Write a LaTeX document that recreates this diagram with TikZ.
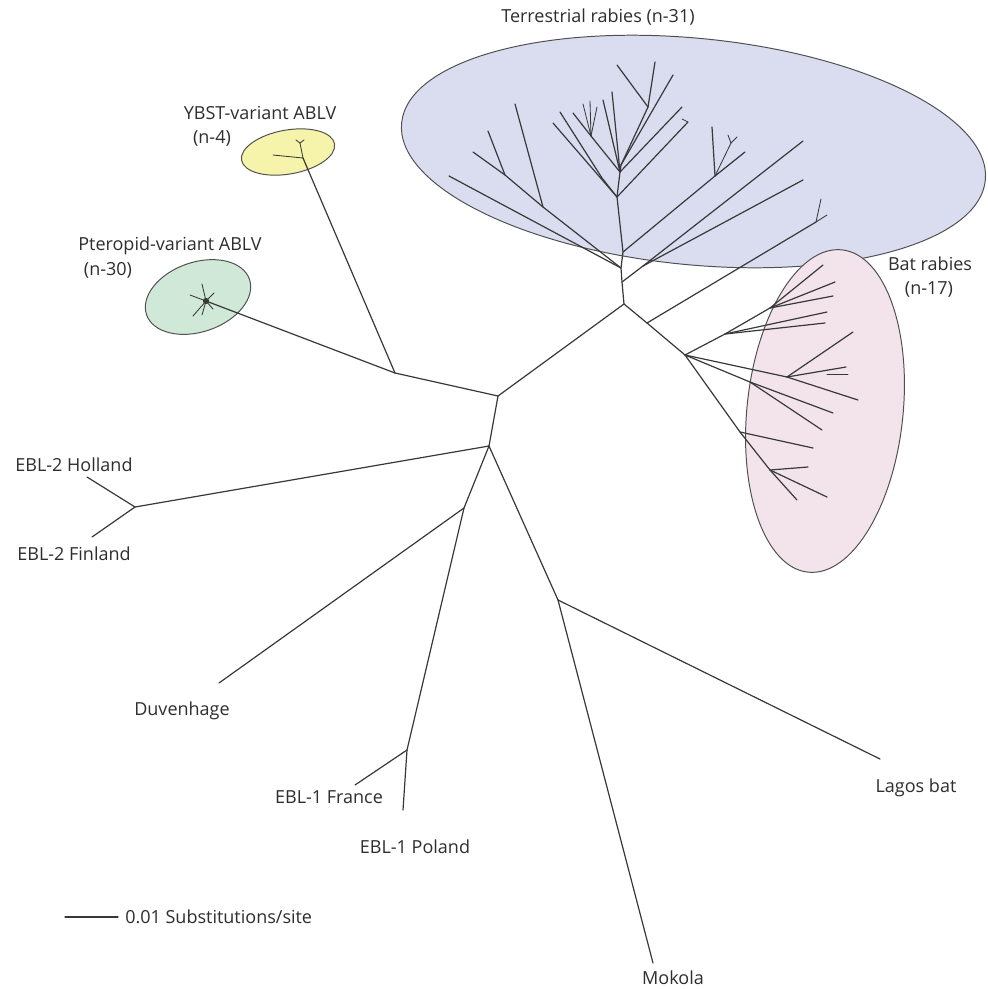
\documentclass[tikz,border=0pt]{standalone}
\usepackage{fontspec}
\setmainfont{Open Sans}
\usepackage{xcolor}
\usepackage{tikz}
\usetikzlibrary{calc}
\definecolor{treeInk}{HTML}{383838}
\definecolor{labelInk}{HTML}{2E2E2E}
\definecolor{rimInk}{HTML}{505050}
\definecolor{terrFill}{HTML}{DADDF0}
\definecolor{batFill}{HTML}{F2E4EA}
\definecolor{ybstFill}{HTML}{F6F3AA}
\definecolor{pterFill}{HTML}{D0E8D8}

\begin{document}
\begin{tikzpicture}[
  x=0.025cm,
  y=-0.025cm,
  branch/.style={draw=treeInk, line width=0.85pt, line cap=round},
  twig/.style={draw=treeInk, line width=0.6pt, line cap=round},
  clade/.style={draw=rimInk, line width=0.7pt},
  tag/.style={font=\fontsize{12.8}{14}\selectfont, text=labelInk, inner sep=0pt}
]
\fill[white] (0,0) rectangle (988,989);
\useasboundingbox (0,0) rectangle (988,989);

% clade ellipses
\coordinate (terrC) at (693.5,151.5);
\coordinate (batC) at (825,411);
\coordinate (ybstC) at (288,152);
\coordinate (pterC) at (198,297);
\draw[clade, fill=terrFill, rotate around={-5.6:(terrC)}] (terrC) ellipse [x radius=7.33cm, y radius=2.83cm];
\draw[clade, fill=batFill, rotate around={-6:(batC)}] (batC) ellipse [x radius=1.95cm, y radius=4.05cm];
\draw[clade, fill=ybstFill, rotate around={10:(ybstC)}] (ybstC) ellipse [x radius=1.18cm, y radius=0.55cm];
\draw[clade, fill=pterFill, rotate around={19:(pterC)}] (pterC) ellipse [x radius=1.36cm, y radius=0.87cm];

% backbone
\coordinate (j1) at (498,396);
\coordinate (j2) at (624,304);
\coordinate (j3) at (395,373);
\coordinate (j4) at (489,446);
\coordinate (j5) at (464,508);
\coordinate (j6) at (558,600);
\coordinate (j7) at (407,750);
\coordinate (j8) at (135,507);
\coordinate (hol) at (87,477);
\coordinate (fin) at (92,537);
\coordinate (duv) at (219,683);
\coordinate (fra) at (355,785);
\coordinate (pol) at (403,810);
\coordinate (lag) at (880,759);
\coordinate (mok) at (653,963);

\draw[branch] (j1) -- (j2);
\draw[branch] (j1) -- (j3);
\draw[branch] (j1) -- (j4);
\draw[branch] (j4) -- (j8);
\draw[branch] (j8) -- (hol);
\draw[branch] (j8) -- (fin);
\draw[branch] (j4) -- (j5);
\draw[branch] (j5) -- (duv);
\draw[branch] (j5) -- (j7);
\draw[branch] (j7) -- (fra);
\draw[branch] (j7) -- (pol);
\draw[branch] (j4) -- (j6);
\draw[branch] (j6) -- (lag);
\draw[branch] (j6) -- (mok);

% YBST and pteropid ABLV
\coordinate (yb) at (303,158);
\coordinate (yb1) at (273,155);
\coordinate (yb2) at (300,143);
\coordinate (yb3) at (296,140);
\coordinate (yb4) at (304,140);
\coordinate (pt) at (206,301);
\coordinate (pt1) at (202,284);
\coordinate (pt2) at (190,295);
\coordinate (pt3) at (193,316);
\coordinate (pt4) at (202,315);
\coordinate (pt5) at (213,309);
\coordinate (pt6) at (214,293);
\draw[branch] (j3) -- (yb);
\draw[twig] (yb) -- (yb1);
\draw[twig] (yb) -- (yb2);
\draw[twig] (yb2) -- (yb3);
\draw[twig] (yb2) -- (yb4);
\draw[branch] (j3) -- (pt);
\draw[twig] (pt) -- (pt1);
\draw[twig] (pt) -- (pt2);
\draw[twig] (pt) -- (pt3);
\draw[twig] (pt) -- (pt4);
\draw[twig] (pt) -- (pt5);
\draw[twig] (pt) -- (pt6);
\fill[treeInk] (pt) circle [radius=2.2pt];

% terrestrial rabies
\coordinate (t0) at (622,282);
\coordinate (t1) at (621,268);
\coordinate (t2) at (623,252);
\coordinate (t3) at (617,197);
\coordinate (t4) at (602,178);
\coordinate (t5) at (620,172);
\coordinate (t6) at (621,165);
\coordinate (tl1) at (543,207);
\coordinate (tl2) at (505,175);
\coordinate (tm) at (643,266);
\coordinate (tf) at (715,176);
\coordinate (tc) at (591,136);
\coordinate (tg) at (648,107);
\draw[branch] (j2) -- (t0) -- (t1) -- (t2) -- (t3) -- (t5) -- (t6);
\draw[branch] (t1) -- (449,176) coordinate (ta);
\draw[branch] (t1) -- (tl1) -- (tl2) -- (473,152) coordinate (tb);
\draw[branch] (tl2) -- (488,131) coordinate (tl3);
\draw[branch] (tl1) -- (515,104) coordinate (tl4);
\draw[branch] (t0) -- (tm);
\draw[branch] (tm) -- (803,141) coordinate (tr1);
\draw[branch] (tm) -- (803,180) coordinate (tr2);
\draw[branch] (t2) -- (tf) -- (745,152) coordinate (tf1);
\draw[branch] (tf) -- (712,127) coordinate (tf2);
\draw[twig] (tf) -- (731,143) coordinate (tf3);
\draw[twig] (tf3) -- (728,135) coordinate (tf4);
\draw[twig] (tf3) -- (737,137) coordinate (tf5);
\draw[branch] (t3) -- (553,123) coordinate (tu1);
\draw[branch] (t3) -- (t4) -- (560,112) coordinate (tu2);
\draw[branch] (t5) -- (tc) -- (573,113) coordinate (tu3);
\draw[twig] (tc) -- (583,104) coordinate (tu4);
\draw[twig] (tc) -- (590,101) coordinate (tu5);
\draw[twig] (tc) -- (597,107) coordinate (tu6);
\draw[branch] (t5) -- (603,100) coordinate (tu7);
\draw[branch] (t5) -- (612,92) coordinate (tu8);
\draw[branch] (t6) -- (tg);
\draw[branch] (tg) -- (617,65) coordinate (tg1);
\draw[branch] (tg) -- (655,62) coordinate (tg2);
\draw[branch] (t6) -- (673,75) coordinate (tv1);
\draw[branch] (t5) -- (682,107) coordinate (tv2);
\draw[branch] (t3) -- (688,122) coordinate (tv3);
\draw[twig] (tv3) -- ++(-6,-3) coordinate (tv4);

% bat rabies
\coordinate (jb) at (647,323);
\coordinate (bx) at (816,222);
\coordinate (b0) at (685,355);
\coordinate (ba) at (725,334);
\coordinate (bb) at (770,308);
\coordinate (bd) at (750,382);
\coordinate (be) at (787,377);
\coordinate (bf) at (740,432);
\coordinate (bg) at (770,470);
\draw[branch] (j2) -- (jb) -- (b0);
\draw[branch] (jb) -- (bx);
\draw[twig] (bx) -- (821,199) coordinate (bx1);
\draw[twig] (bx) -- (827,215) coordinate (bx2);
\draw[branch] (b0) -- (ba) -- (bb) -- (823,265) coordinate (bb1);
\draw[branch] (bb) -- (835,282) coordinate (bb2);
\draw[branch] (bb) -- (833,296) coordinate (bb3);
\draw[branch] (ba) -- (827,312) coordinate (ba1);
\draw[branch] (ba) -- (825,323) coordinate (ba2);
\draw[branch] (b0) -- (be);
\draw[branch] (be) -- (853,332) coordinate (be1);
\draw[branch] (be) -- (846,367) coordinate (be2);
\draw[twig] (827,374) coordinate (be3) -- (848,374) coordinate (be4);
\draw[branch] (be) -- (858,400) coordinate (be5);
\draw[branch] (b0) -- (bd);
\draw[branch] (bd) -- (833,413) coordinate (bd1);
\draw[branch] (bd) -- (822,430) coordinate (bd2);
\draw[branch] (b0) -- (bf) -- (bg);
\draw[branch] (bf) -- (813,448) coordinate (bf1);
\draw[branch] (bg) -- (808,467) coordinate (bg1);
\draw[branch] (bg) -- (827,497) coordinate (bg2);
\draw[branch] (bg) -- (797,500) coordinate (bg3);

% labels
\node[tag] (terrLab) at (598,17) {Terrestrial rabies (n-31)};
\node[tag] (ybstLab) at (260,113) {YBST-variant ABLV};
\node[tag] (ybstN) at (212,138) {(n-4)};
\node[tag] (pterLab) at (170,246) {Pteropid-variant ABLV};
\node[tag] (pterN) at (108,270) {(n-30)};
\node[tag] (batLab) at (930,264) {Bat rabies};
\node[tag] (batN) at (929,289) {(n-17)};
\node[tag] (holLab) at (74,465) {EBL-2 Holland};
\node[tag] (finLab) at (74,554) {EBL-2 Finland};
\node[tag] (duvLab) at (182,711) {Duvenhage};
\node[tag] (fraLab) at (329,797) {EBL-1 France};
\node[tag] (polLab) at (415,847) {EBL-1 Poland};
\node[tag] (lagLab) at (916,788) {Lagos bat};
\node[tag] (mokLab) at (673,978) {Mokola};

% scale bar
\coordinate (sb0) at (65,917);
\coordinate (sb1) at (118,917);
\draw[branch] (sb0) -- (sb1);
\node[tag, anchor=west] (sbLab) at (125,917) {0.01 Substitutions/site};
\end{tikzpicture}
\end{document}
